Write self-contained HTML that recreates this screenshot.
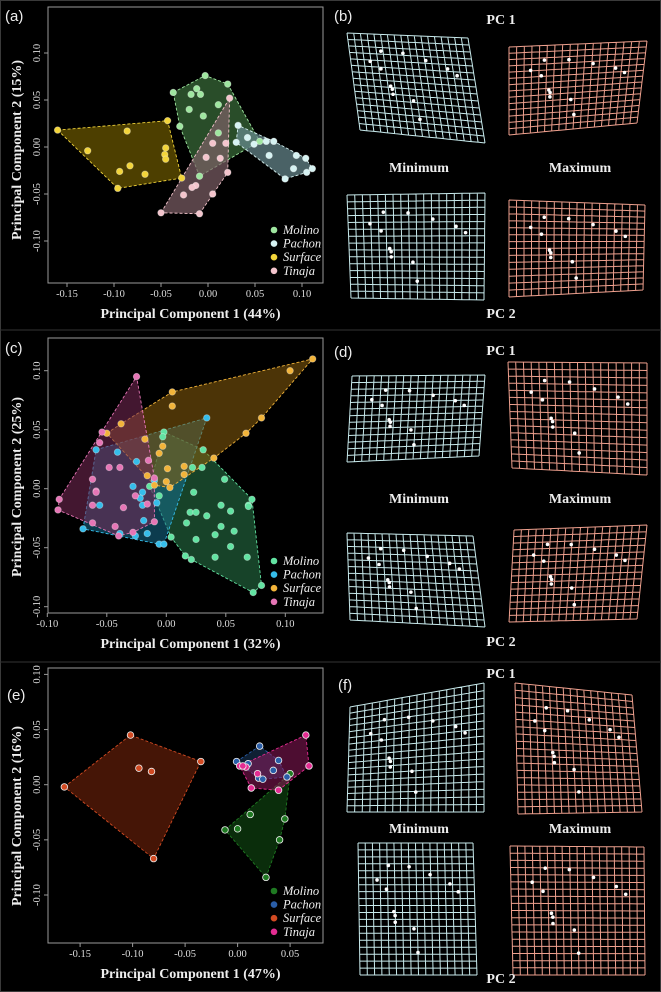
<!DOCTYPE html>
<html><head><meta charset="utf-8"><style>
html,body{margin:0;padding:0;background:#000;}
svg{display:block;}
</style></head><body>
<svg id="fig" width="661" height="992" viewBox="0 0 661 992" xmlns="http://www.w3.org/2000/svg">
<rect x="0" y="0" width="661" height="992" fill="#000"/>
<rect x="0.5" y="0.5" width="660" height="991" fill="none" stroke="#3a3a3a"/>
<line x1="0" y1="330" x2="661" y2="330" stroke="#333"/>
<line x1="0" y1="662" x2="661" y2="662" stroke="#333"/>
<g id="root"></g>
</svg>
<script>
// ---------- data: panel (a) ----------
const aMolinoX=[-0.003,0.021,-0.037,-0.012,-0.018,-0.008,-0.020,0.011,-0.005,-0.030,0.011,-0.009,0.055];
const aMolinoY=[0.076,0.067,0.058,0.062,0.056,0.056,0.040,0.045,0.033,0.022,0.015,-0.031,0.006];
const aPachonX=[0.032,0.030,0.042,0.049,0.062,0.070,0.065,0.094,0.104,0.091,0.111,0.105,0.082];
const aPachonY=[0.023,0.005,0.010,0.003,0.006,0.006,-0.009,-0.009,-0.012,-0.023,-0.023,-0.027,-0.034];
const aSurfaceX=[-0.160,-0.043,-0.086,-0.128,-0.045,-0.046,-0.045,-0.083,-0.094,-0.067,-0.028,-0.096];
const aSurfaceY=[0.018,0.028,0.017,-0.004,-0.001,-0.008,-0.013,-0.020,-0.026,-0.029,-0.033,-0.044];
const aTinajaX=[0.023,0.005,0.019,-0.002,0.013,0.021,-0.013,-0.017,-0.026,0.005,-0.050,-0.009];
const aTinajaY=[0.052,0.004,0.004,-0.011,-0.012,-0.027,-0.041,-0.043,-0.051,-0.050,-0.070,-0.071];
// ---------- data: panel (c) ----------
const cMolinoX=[-0.002,-0.003,0.031,0.030,0.022,0.049,0.023,0.072,0.069,0.069,0.046,0.054,0.020,0.025,0.034,0.017,0.046,0.057,0.041,0.025,0.004,0.054,0.016,0.021,0.041,0.068,0.080,0.073,-0.006,-0.014];
const cMolinoY=[0.048,0.044,0.033,0.018,0.018,0.008,-0.003,-0.009,-0.014,-0.015,-0.014,-0.019,-0.020,-0.020,-0.023,-0.029,-0.032,-0.036,-0.039,-0.043,-0.041,-0.049,-0.057,-0.060,-0.058,-0.058,-0.082,-0.088,-0.006,0.002];
const cPachonX=[0.034,-0.041,-0.059,-0.025,-0.028,-0.020,-0.022,-0.020,-0.056,-0.008,-0.019,-0.016,-0.026,-0.039,-0.070,-0.006,-0.002,-0.010];
const cPachonY=[0.060,0.031,0.033,0.023,0.002,-0.003,-0.008,-0.014,-0.014,-0.012,-0.027,-0.038,-0.040,-0.038,-0.034,-0.047,-0.047,0.007];
const cSurfaceX=[0.123,0.104,0.005,0.005,0.080,-0.038,-0.050,0.067,-0.018,-0.003,-0.006,0.040,0.001,0.015,0.015,-0.016,0.000,0.003,-0.010];
const cSurfaceY=[0.110,0.100,0.082,0.070,0.060,0.055,0.047,0.047,0.042,0.036,0.030,0.026,0.017,0.019,0.012,0.011,0.006,0.001,0.003];
const cTinajaX=[-0.025,-0.054,-0.056,-0.015,-0.048,-0.039,-0.062,-0.059,-0.059,-0.010,-0.062,-0.036,-0.026,-0.016,-0.090,-0.091,-0.062,-0.010,-0.043,-0.028,-0.040];
const cTinajaY=[0.095,0.048,0.039,0.024,0.018,0.018,0.008,-0.002,-0.003,0.009,-0.014,-0.016,-0.006,-0.013,-0.009,-0.018,-0.029,-0.028,-0.032,-0.037,-0.040];
// ---------- data: panel (e) ----------
const eMolinoX=[-0.012,0.000,0.012,0.045,0.040,0.027,0.050];
const eMolinoY=[-0.041,-0.040,-0.027,-0.031,-0.050,-0.084,0.010];
const ePachonX=[0.021,-0.001,0.010,0.039,0.034,0.020,0.024,0.047];
const ePachonY=[0.035,0.021,0.019,0.022,0.013,0.006,0.005,0.007];
const eSurfaceX=[-0.165,-0.102,-0.094,-0.082,-0.035,-0.080];
const eSurfaceY=[-0.002,0.045,0.015,0.012,0.021,-0.067];
const eTinajaX=[0.065,0.068,0.002,0.008,0.005,0.019,0.013,0.039];
const eTinajaY=[0.045,0.017,0.017,0.016,0.017,0.010,-0.003,-0.005];
// ---------- tick labels ----------
const aXTicks=[-0.15,-0.10,-0.05,0.00,0.05,0.10];
const aYTicks=[-0.10,-0.05,0.00,0.05,0.10];
const cXTicks=[-0.10,-0.05,0.00,0.05,0.10];
const cYTicks=[-0.10,-0.05,0.00,0.05,0.10];
const eXTicks=[-0.15,-0.10,-0.05,0.00,0.05];
const eYTicks=[-0.10,-0.05,0.00,0.05,0.10];
const groupNames=["Molino","Pachon","Surface","Tinaja"];

const NS="http://www.w3.org/2000/svg";
const root=document.getElementById('root');
function mk(tag,attrs,parent){const e=document.createElementNS(NS,tag);for(const k in attrs)e.setAttribute(k,attrs[k]);(parent||root).appendChild(e);return e;}
function hull(pts){
  const p=pts.slice().sort((a,b)=>a[0]-b[0]||a[1]-b[1]);
  const cr=(o,a,b)=>(a[0]-o[0])*(b[1]-o[1])-(a[1]-o[1])*(b[0]-o[0]);
  const lo=[],up=[];
  for(const q of p){while(lo.length>=2&&cr(lo[lo.length-2],lo[lo.length-1],q)<=0)lo.pop();lo.push(q);}
  for(let i=p.length-1;i>=0;i--){const q=p[i];while(up.length>=2&&cr(up[up.length-2],up[up.length-1],q)<=0)up.pop();up.push(q);}
  up.pop();lo.pop();return lo.concat(up);
}
const serif='"Liberation Serif", serif';
function scatter(cfg){
  const g=mk('g',{});
  
  
  const X=v=>cfg.x0+cfg.kx*v, Y=v=>cfg.y0-cfg.ky*v;
  const box=mk('rect',{x:cfg.bx1,y:cfg.by1,width:cfg.bx2-cfg.bx1,height:cfg.by2-cfg.by1,fill:'none',stroke:'#9a9a9a','stroke-width':1},g);
  
  
  cfg.xt.forEach(t=>{
    const x=X(t);
    const l=mk('line',{x1:x,y1:cfg.by2,x2:x,y2:cfg.by2+4,stroke:'#9a9a9a'},g);
    
    
    const tx=mk('text',{x:x,y:cfg.by2+14,'font-family':serif,'font-size':10.5,fill:'#ddd','text-anchor':'middle'},g);
    
    
    tx.textContent=t.toFixed(2);
  });
  cfg.yt.forEach(t=>{
    const y=Y(t);
    const l=mk('line',{x1:cfg.bx1-4,y1:y,x2:cfg.bx1,y2:y,stroke:'#9a9a9a'},g);
    
    
    const tx=mk('text',{x:0,y:0,transform:`translate(${cfg.bx1-8},${y}) rotate(-90)`,'font-family':serif,'font-size':10.5,fill:'#ddd','text-anchor':'middle'},g);
    
    
    tx.textContent=t.toFixed(2);
  });
  const xt=mk('text',{x:(cfg.bx1+cfg.bx2)/2+5,y:cfg.xty,'font-family':serif,'font-size':14,'font-weight':'bold',fill:'#eee','text-anchor':'middle'},g);
  
  
  xt.textContent=cfg.xtitle;
  const yt=mk('text',{x:0,y:0,transform:`translate(21,${cfg.ytc}) rotate(-90)`,'font-family':serif,'font-size':14,'font-weight':'bold',fill:'#eee','text-anchor':'middle'},g);
  
  
  yt.textContent=cfg.ytitle;
  const pl=mk('text',{x:cfg.lx,y:cfg.ly,'font-family':'"Liberation Sans", sans-serif','font-size':15,fill:'#eee'},g);
  
  
  pl.textContent=cfg.label;
  cfg.groups.forEach((gr,i)=>{
    const pts=gr.xs.map((v,j)=>[X(v),Y(gr.ys[j])]);
    const h=hull(pts);
    const poly=mk('polygon',{points:h.map(p=>p.join(',')).join(' '),fill:gr.fill,'fill-opacity':cfg.fop,stroke:gr.col,'stroke-width':0.9,'stroke-dasharray':'3,2'},g);
    
    
  });
  cfg.groups.forEach((gr,i)=>{
    gr.xs.forEach((v,j)=>{
      const c=mk('circle',{cx:X(v),cy:Y(gr.ys[j]),r:3.3,fill:gr.col,stroke:cfg.pstroke,'stroke-width':0.8},g);
      
      
    });
  });
  groupNames.forEach((n,i)=>{
    const y=cfg.legy+i*13.6;
    const c=mk('circle',{cx:274,cy:y,r:3.3,fill:cfg.groups[i].col},g);
    
    
    const t=mk('text',{x:283,y:y+4,'font-family':serif,'font-size':12.5,'font-style':'italic',fill:'#eee'},g);
    
    
    t.textContent=n;
  });
}
scatter({name:'panel-a',x0:208,kx:940,y0:147,ky:940,bx1:48,bx2:323,by1:7,by2:283,xt:aXTicks,yt:aYTicks,
  xty:318,ytc:150,xtitle:'Principal Component 1 (44%)',ytitle:'Principal Component 2 (15%)',label:'(a)',lx:5,ly:21,
  legy:230,fop:0.7,pstroke:'rgba(255,255,255,0.35)',
  groups:[{xs:aMolinoX,ys:aMolinoY,col:'#9fe6a0',fill:'#3a6e3a'},{xs:aPachonX,ys:aPachonY,col:'#d6f2f2',fill:'#6a8c92'},
          {xs:aSurfaceX,ys:aSurfaceY,col:'#f2d43a',fill:'#6e5a00'},{xs:aTinajaX,ys:aTinajaY,col:'#f3c4cc',fill:'#7e6066'}]});
scatter({name:'panel-c',x0:166.3,kx:1190,y0:488.7,ky:1180,bx1:48,bx2:323,by1:338,by2:613,xt:cXTicks,yt:cYTicks,
  xty:648,ytc:487,xtitle:'Principal Component 1 (32%)',ytitle:'Principal Component 2 (25%)',label:'(c)',lx:5,ly:353,
  legy:561,fop:0.55,pstroke:'rgba(255,255,255,0.35)',
  groups:[{xs:cMolinoX,ys:cMolinoY,col:'#62e3a2',fill:'#2a7a4a'},{xs:cPachonX,ys:cPachonY,col:'#35bdea',fill:'#156e8e'},
          {xs:cSurfaceX,ys:cSurfaceY,col:'#f2b43a',fill:'#8a5e0c'},{xs:cTinajaX,ys:cTinajaY,col:'#e676b6',fill:'#7a2a58'}]});
scatter({name:'panel-e',x0:237.6,kx:1050,y0:784.7,ky:1103,bx1:48,bx2:323,by1:668,by2:943,xt:eXTicks,yt:eYTicks,
  xty:978,ytc:816,xtitle:'Principal Component 1 (47%)',ytitle:'Principal Component 2 (16%)',label:'(e)',lx:7,ly:700,
  legy:891,fop:0.5,pstroke:'#eee',
  groups:[{xs:eMolinoX,ys:eMolinoY,col:'#1f7a22',fill:'#145a16'},{xs:ePachonX,ys:ePachonY,col:'#2a5ea8',fill:'#1d4068'},
          {xs:eSurfaceX,ys:eSurfaceY,col:'#d24a22',fill:'#8a2a0c'},{xs:eTinajaX,ys:eTinajaY,col:'#e42c92',fill:'#9a1a62'}]});

// ---------- deformation grids ----------
const lmU=[0.16,0.26,0.24,0.44,0.62,0.79,0.86,0.30,0.31,0.31,0.47,0.50];
const lmV=[0.28,0.17,0.35,0.18,0.24,0.31,0.37,0.52,0.55,0.60,0.65,0.83];
function grid(name,c,col,cols,rows){
  const g=mk('g',{});
  
  
  const P=(u,v)=>{const [a,b,d,e]=c;return [(1-u)*(1-v)*a[0]+u*(1-v)*b[0]+u*v*d[0]+(1-u)*v*e[0],(1-u)*(1-v)*a[1]+u*(1-v)*b[1]+u*v*d[1]+(1-u)*v*e[1]];};
  let dstr='';
  for(let i=0;i<=cols;i++){const u=i/cols;let s='';for(let k=0;k<=20;k++){const p=P(u,k/20);s+=(k?'L':'M')+p[0].toFixed(1)+','+p[1].toFixed(1);}dstr+=s;}
  for(let j=0;j<=rows;j++){const v=j/rows;let s='';for(let k=0;k<=20;k++){const p=P(k/20,v);s+=(k?'L':'M')+p[0].toFixed(1)+','+p[1].toFixed(1);}dstr+=s;}
  const path=mk('path',{d:dstr,fill:'none',stroke:col,'stroke-width':1},g);
  
  
  lmU.forEach((u,i)=>{const p=P(u,lmV[i]);const cc=mk('circle',{cx:p[0],cy:p[1],r:1.8,fill:'#fff'},g);
    
    });
}
function label(txt,x,y,name,size,anchor,family,weight){
  const t=mk('text',{x:x,y:y,'font-family':family||serif,'font-size':size||14,'font-weight':weight||'bold',fill:'#eee','text-anchor':anchor||'middle'});
  
  
  t.textContent=txt;
}
const W='#c8eaec', S='#eea08e';
label('(b)',334,21,'panel-label-b',15,'start','"Liberation Sans", sans-serif','normal');
label('PC 1',501,24,'pc1-label-b');
grid('grid-b-pc1-min',[[347,33],[468,38],[485,143],[360,130]],W,18,15);
grid('grid-b-pc1-max',[[509,47],[647,41],[637,123],[509,135]],S,18,14);
label('Minimum',419,172,'minimum-label-b');
label('Maximum',580,172,'maximum-label-b');
grid('grid-b-pc2-min',[[347,195],[485,193],[484,300],[351,298]],W,18,15);
grid('grid-b-pc2-max',[[509,200],[645,205],[643,290],[509,297]],S,18,14);
label('PC 2',501,318,'pc2-label-b');
label('(d)',334,357,'panel-label-d',15,'start','"Liberation Sans", sans-serif','normal');
label('PC 1',501,355,'pc1-label-d');
grid('grid-d-pc1-min',[[352,376],[485,375],[479,456],[347,462]],W,18,13);
grid('grid-d-pc1-max',[[508,362],[647,363],[647,475],[512,468]],S,18,15);
label('Minimum',419,503,'minimum-label-d');
label('Maximum',580,503,'maximum-label-d');
grid('grid-d-pc2-min',[[347,533],[473,536],[485,627],[350,620]],W,18,13);
grid('grid-d-pc2-max',[[514,530],[647,525],[637,619],[509,622]],S,18,14);
label('PC 2',501,646,'pc2-label-d');
label('(f)',338,690,'panel-label-f',15,'start','"Liberation Sans", sans-serif','normal');
label('PC 1',501,678,'pc1-label-f');
grid('grid-f-pc1-min',[[350,707],[484,683],[484,812],[347,812]],W,18,17);
grid('grid-f-pc1-max',[[515,683],[632,695],[642,812],[518,814]],S,17,18);
label('Minimum',419,833,'minimum-label-f');
label('Maximum',580,833,'maximum-label-f');
grid('grid-f-pc2-min',[[358,843],[473,843],[477,975],[360,975]],W,16,19);
grid('grid-f-pc2-max',[[510,846],[644,847],[645,975],[513,975]],S,18,18);
label('PC 2',501,983,'pc2-label-f');
</script>
</body></html>
